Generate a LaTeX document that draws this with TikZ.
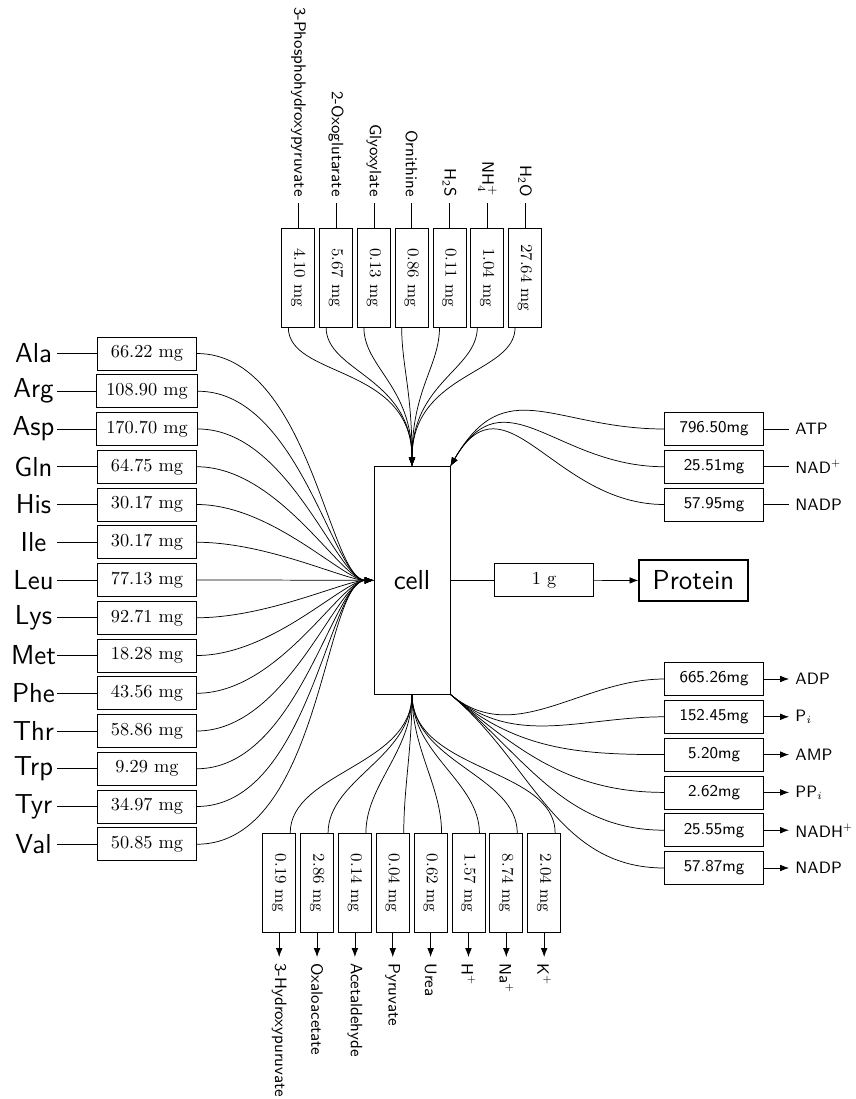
\documentclass[tikz,border=0pt]{standalone}
\usepackage{fontspec}
\usepackage{graphicx,color}
\usepackage{tikz}
\usetikzlibrary{%
  arrows.meta,%
  calc%
}

\begin{document}
\begin{tikzpicture}[x=0.5464pt,y=0.5464pt,
    massbox/.style={draw,minimum width=54pt,minimum height=18pt,inner xsep=5.5pt},
    vmassbox/.style={massbox,rotate=-90,font=\small},
    smassbox/.style={massbox,font=\small\sffamily},
    bigsans/.style={font=\fontsize{15}{18}\selectfont\sffamily},
    aalabel/.style={bigsans,minimum width=25.7pt,inner xsep=0pt},
    metab/.style={font=\small\sffamily},
    vmetab/.style={metab,rotate=-90},
    feed/.style={-{Latex}}]
  \useasboundingbox (0,0) rectangle (856,-1099);
  \node [draw,bigsans,minimum width=41.5pt,minimum height=124.2pt] (cell) at (412,-580.3) {cell};
  % amino acids
  \foreach \aa/\mass [count=\i from 0] in {Ala/66.22,Arg/108.90,Asp/170.70,Gln/64.75,His/30.17,Ile/30.17,Leu/77.13,Lys/92.71,Met/18.28,Phe/43.56,Thr/58.86,Trp/9.29,Tyr/34.97,Val/50.85}
  {
    \node [aalabel] (aa\i) at (33.5,{-353.5-37.75*\i}) {\aa};
    \node [massbox] (in\i) at (147,{-353.5-37.75*\i}) {\mass\ mg};
    \draw (aa\i.east) -- (in\i.west);
    \draw [feed] (in\i.east) to[out=0,in=180,out looseness=1,in looseness=.4] (cell.west);
  }
  % uptake from the top
  \foreach \met/\mass [count=\i from 0] in {3-Phosphohydroxypyruvate/4.10,2-Oxoglutarate/5.67,Glyoxylate/0.13,Ornithine/0.86,H\textsubscript{2}S/0.11,NH$_4^+$/1.04,H\textsubscript{2}O/27.64}
  {
    \node [vmassbox] (up\i) at ({298.3+37.8*\i},-277.5) {\mass\ mg};
    \node [vmetab,anchor=east] (src\i) at ({298.3+37.8*\i},-203) {\met};
    \draw (up\i.west |- src\i.east) -- (up\i.west);
    \draw [feed] ($(up\i.east)+(-10,0)$) to[out=-90,in=90,out looseness=.7,in looseness=1.4] (cell.north);
  }
  % secretion at the bottom
  \foreach \met/\mass [count=\i from 0] in {3-Hydroxypuruvate/0.19,Oxaloacetate/2.86,Acetaldehyde/0.14,Pyruvate/0.04,Urea/0.62,H\textsuperscript{+}/1.57,Na\textsuperscript{+}/8.74,K\textsuperscript{+}/2.04}
  {
    \node [vmassbox] (dn\i) at ({279.2+37.85*\i},-883) {\mass\ mg};
    \node [vmetab,anchor=west] (sink\i) at ({279.2+37.85*\i},-957) {\met};
    \draw [feed] (dn\i.east) -- (dn\i.east |- sink\i.west);
    \draw (cell.south) to[out=-90,in=90,out looseness=1,in looseness=.85] ($(dn\i.west)+(11,0)$);
  }
  % cofactors in
  \foreach \met/\mass [count=\i from 0] in {ATP/796.50,NAD\textsuperscript{+}/25.51,NADP/57.95}
  {
    \node [smassbox] (co\i) at (714,{-429-37.75*\i}) {\mass mg};
    \node [metab,anchor=west] (cof\i) at (789,{-429-37.75*\i}) {\met};
    \draw (co\i.east) -- (co\i.east -| cof\i.west);
    \draw [feed] (co\i.west) to[out=180,in=60,looseness=1.3] (cell.north east);
  }
  % cofactors out
  \foreach \met/\mass [count=\i from 0] in {ADP/665.26,P$_i$/152.45,AMP/5.20,PP$_i$/2.62,NADH\textsuperscript{+}/25.55,NADP/57.87}
  {
    \node [smassbox] (by\i) at (714,{-679-37.8*\i}) {\mass mg};
    \node [metab,anchor=west] (byp\i) at (789,{-679-37.8*\i}) {\met};
    \draw [feed] (by\i.east) -- (by\i.east -| byp\i.west);
    \draw (cell.south east) to[out=-40,in=180] (by\i.west);
  }
  \node [massbox] (yield) at (544,-580.3) {1 g};
  \node [draw,thick,bigsans,minimum width=59.4pt,minimum height=22.4pt] (prot) at (693.4,-580.5) {Protein};
  \draw (cell) -- (yield);
  \draw [feed] (yield) -- (prot);
\end{tikzpicture}
\end{document}
